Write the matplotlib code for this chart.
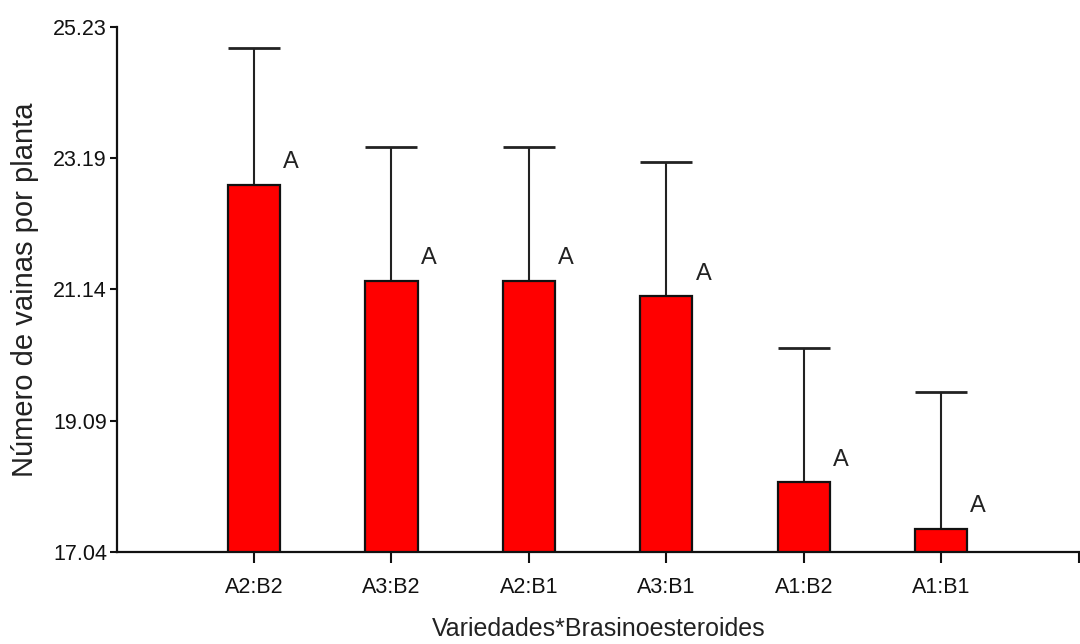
import matplotlib
matplotlib.use("Agg")
import matplotlib.pyplot as plt

categories = ["A2:B2", "A3:B2", "A2:B1", "A3:B1", "A1:B2", "A1:B1"]
means = [22.77, 21.27, 21.27, 21.03, 18.13, 17.40]
upper = [24.90, 23.36, 23.36, 23.12, 20.22, 19.54]
letters = ["A", "A", "A", "A", "A", "A"]
yticks = [17.04, 19.09, 21.14, 23.19, 25.23]

plt.rcParams['font.family'] = ['Liberation Sans', 'DejaVu Sans']

fig = plt.figure(figsize=(10.8, 6.44), dpi=100)
ax = fig.add_axes([0.108, 0.143, 0.892, 0.815])

x = list(range(len(categories)))
err = [u - m for u, m in zip(upper, means)]
ax.bar(x, means, width=0.38, color="#ff0000", edgecolor="#111111", linewidth=1.6, zorder=2)
ax.errorbar(x, means, yerr=[[0] * len(x), err], fmt="none", ecolor="#222222",
            elinewidth=1.5, capsize=19, capthick=2, zorder=1)

for xi, m, lab in zip(x, means, letters):
    ax.text(xi + 0.27, m + 0.18, lab, fontsize=17, color="#222222", ha="center", va="bottom")

ax.set_xlim(-1.0, 6.01)
ax.set_ylim(17.04, 25.23)
ax.set_yticks(yticks)
ax.set_yticklabels([f"{v:.2f}" for v in yticks])
ax.set_xticks(x + [6])
ax.set_xticklabels(categories + [""])

for s in ["top", "right"]:
    ax.spines[s].set_visible(False)
for s in ["left", "bottom"]:
    ax.spines[s].set_linewidth(1.6)
    ax.spines[s].set_color("#111111")

ax.tick_params(axis="y", length=5, width=1.5, labelsize=15.5, colors="#111111", pad=2)
ax.tick_params(axis="x", length=8, width=1.5, labelsize=15.5, colors="#111111", pad=10)

ax.set_xlabel("Variedades*Brasinoesteroides", fontsize=18, color="#222222", labelpad=14)
ax.set_ylabel("Número de vainas por planta", fontsize=21, color="#222222", labelpad=10)

fig.savefig("out.png", dpi=100)
